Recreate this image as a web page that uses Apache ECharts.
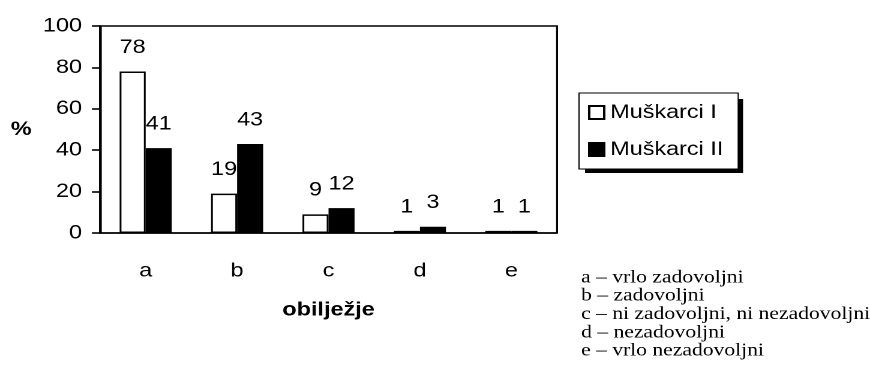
<!DOCTYPE html>
<html>
<head>
<meta charset="utf-8">
<script src="https://cdn.jsdelivr.net/npm/echarts@6/dist/echarts.min.js"></script>
<style>
  html, body { margin: 0; padding: 0; background: #fff; overflow: hidden; }
  /* the figure is laid out narrower and widened, so type and marks come out wide-set */
  #chart { width: 725px; height: 385px; transform: scaleX(1.2); transform-origin: 0 0; }
</style>
</head>
<body>
<div id="chart"></div>
<script>
// Satisfaction level categories and the share (%) of each group
const categories = ['a', 'b', 'c', 'd', 'e'];
const muskarciI = [78, 19, 9, 1, 1];
const muskarciII = [41, 43, 12, 3, 1];
const seriesNames = ['Muškarci I', 'Muškarci II'];
const yTicks = { min: 0, max: 100, interval: 20 };
const keyLines = [
  'a – vrlo zadovoljni',
  'b – zadovoljni',
  'c – ni zadovoljni, ni nezadovoljni',
  'd – nezadovoljni',
  'e – vrlo nezadovoljni'
];

const sans = 'Arial, "Liberation Sans", sans-serif';
const serif = '"Times New Roman", "Liberation Serif", serif';
const fs = 19.5;

const chart = echarts.init(document.getElementById('chart'), null, {
  renderer: 'canvas', devicePixelRatio: 2
});

const labelStyle = {
  show: true,
  position: 'top',
  distance: 14,
  color: '#000',
  fontFamily: sans,
  fontSize: fs
};

chart.setOption({
  animation: false,
  backgroundColor: '#fff',
  grid: {
    left: 83.3, right: 260.8, top: 26, bottom: 152,
    show: true, borderColor: '#000', borderWidth: 1.6, backgroundColor: 'transparent'
  },
  legend: {
    orient: 'vertical',
    left: 482.5, top: 93,
    padding: [9.5, 12.4, 9.5, 7.5],
    itemGap: 17,
    itemWidth: 12.5, itemHeight: 13,
    icon: 'rect',
    z: 10,
    backgroundColor: '#fff',
    borderColor: '#000', borderWidth: 1,
    textStyle: { color: '#000', fontFamily: sans, fontSize: fs },
    data: seriesNames
  },
  xAxis: {
    type: 'category',
    data: categories,
    name: 'obilježje',
    nameLocation: 'middle',
    nameGap: 67,
    nameTextStyle: { color: '#000', fontFamily: sans, fontSize: fs, fontWeight: 'bold' },
    axisLine: { lineStyle: { color: '#000', width: 1.6 } },
    axisTick: { show: false },
    axisLabel: { color: '#000', fontFamily: sans, fontSize: fs, margin: 28 }
  },
  yAxis: {
    type: 'value',
    min: yTicks.min, max: yTicks.max, interval: yTicks.interval,
    name: '%',
    nameLocation: 'middle',
    nameRotate: 0,
    nameGap: 57,
    nameTextStyle: {
      color: '#000', fontFamily: sans, fontSize: fs, fontWeight: 'bold', padding: [10, 0, 0, 0]
    },
    axisLine: { show: true, lineStyle: { color: '#000', width: 1.6 } },
    axisTick: { show: true, length: 6.7, lineStyle: { color: '#000', width: 1.6 } },
    axisLabel: { color: '#000', fontFamily: sans, fontSize: fs, margin: 15 },
    splitLine: { show: false }
  },
  series: [
    {
      name: seriesNames[0],
      type: 'bar',
      data: muskarciI,
      barWidth: 21.7,
      barGap: '0%',
      itemStyle: { color: '#fff', borderColor: '#000', borderWidth: 1.5 },
      label: labelStyle
    },
    {
      name: seriesNames[1],
      type: 'bar',
      data: muskarciII,
      barWidth: 21.7,
      itemStyle: { color: '#000', borderColor: '#000', borderWidth: 1 },
      label: labelStyle
    }
  ],
  graphic: [
    {
      // drop shadow behind the legend box
      type: 'rect',
      z: 1,
      shape: { x: 487.5, y: 99, width: 131.7, height: 74 },
      style: { fill: '#000' }
    },
    {
      type: 'text',
      left: 484.2,
      top: 268.5,
      style: {
        text: keyLines.join('\n'),
        font: '18px ' + serif,
        lineHeight: 18.3,
        fill: '#000'
      }
    }
  ]
});
</script>
</body>
</html>
